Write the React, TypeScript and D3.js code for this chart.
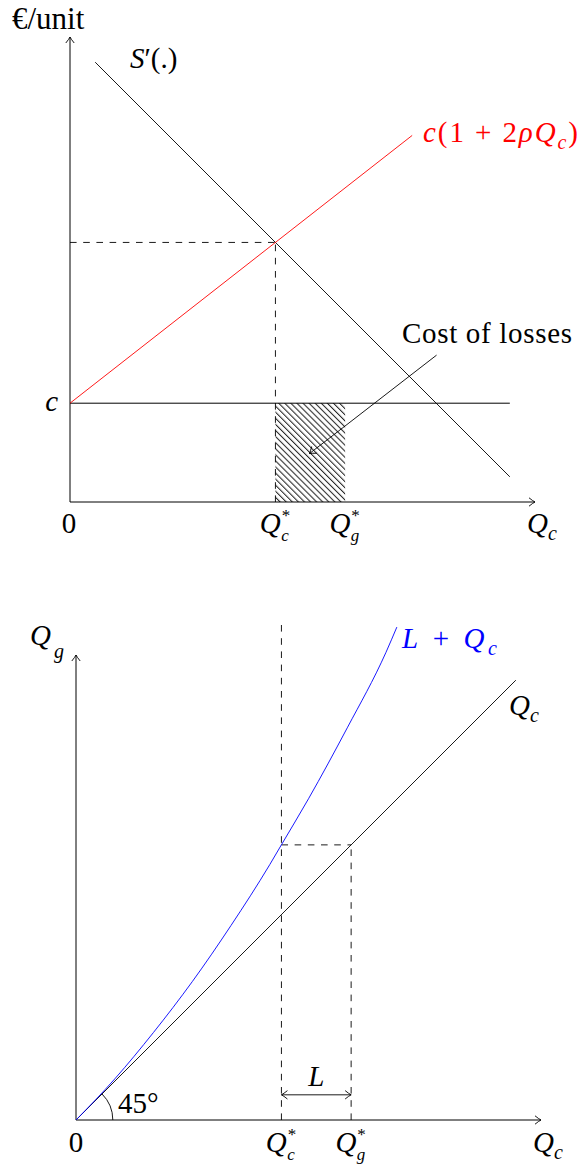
import React from "react";
import * as d3 from "d3";

// Both panels share the same unit grid: 0..12 on each axis.
const AXIS_MAX = 12;

// Upper panel: marginal value S'(.), marginal cost c(1+2ρQc), unit cost c
const marginalValue: [number, number][] = [
  [0.65, 11.35],
  [11.35, 0.65],
];
const marginalCost: [number, number][] = [
  [0, 2.55],
  [8.83, 9.46],
];
const unitCost = 2.55;
const unitCostEnd = 11.35;
const qgStar = 7.1;
const lossArrow: [number, number][] = [
  [9.46, 3.79],
  [6.18, 1.25],
];

// Lower panel: generation needed (L + Qc) against consumption Qc
const consumptionLine: [number, number][] = [
  [0, 0],
  [11.35, 11.35],
];
const generationCurve: [number, number][] = [
  [0, 0],
  [1, 1.06],
  [2, 2.26],
  [3, 3.57],
  [4, 5.02],
  [5, 6.59],
  [5.3, 7.1],
  [6, 8.29],
  [7, 10.12],
  [8, 12.07],
  [8.28, 12.72],
];
const guideTop = 12.9;
const lossBracketLevel = 0.65;
const angleArcRadius = 0.95;

const FONT = "Liberation Serif";
const FS = 29;
const SFS = 20;
const SS = 17;

function intersect(a: [number, number][], b: [number, number][]) {
  const ma = (a[1][1] - a[0][1]) / (a[1][0] - a[0][0]);
  const mb = (b[1][1] - b[0][1]) / (b[1][0] - b[0][0]);
  const ba = a[0][1] - ma * a[0][0];
  const bb = b[0][1] - mb * b[0][0];
  const x = (bb - ba) / (ma - mb);
  return [x, ma * x + ba] as [number, number];
}

function Arrow({ x, y, angle, color = "#000" }: { x: number; y: number; angle: number; color?: string }) {
  return (
    <path
      d="M -6 -4.2 Q -2.2 -1.1 0 0 Q -2.2 1.1 -6 4.2"
      transform={`translate(${x},${y}) rotate(${angle})`}
      fill="none"
      stroke={color}
      strokeWidth={0.9}
    />
  );
}

// Math-style Q with a subscript and optional star, as one text element
function QLabel({
  cx,
  y,
  sub,
  sup,
  fill = "#000",
  left,
}: {
  cx?: number;
  y: number;
  sub: string;
  sup?: boolean;
  fill?: string;
  left?: number;
}) {
  const qw = 0.74 * FS;
  const total = qw + 0.5 * SFS;
  const x0 = left !== undefined ? left : (cx as number) - total / 2;
  return (
    <text x={x0} y={y} fill={fill} fontFamily={FONT} fontSize={FS}>
      <tspan fontStyle="italic">Q</tspan>
      {sup ? (
        <>
          <tspan fontSize={SS} dx={1} dy={-12}>
            *
          </tspan>
          <tspan fontSize={SS} fontStyle="italic" dx={-9} dy={20}>
            {sub}
          </tspan>
        </>
      ) : (
        <tspan fontSize={SFS} fontStyle="italic" dy={7}>
          {sub}
        </tspan>
      )}
    </text>
  );
}

export default function App() {
  const xT = d3.scaleLinear().domain([0, AXIS_MAX]).range([70, 535]);
  const yT = d3.scaleLinear().domain([0, AXIS_MAX]).range([502, 37]);
  const xB = d3.scaleLinear().domain([0, AXIS_MAX]).range([76, 541]);
  const yB = d3.scaleLinear().domain([0, AXIS_MAX]).range([1120, 655]);

  const lineT = d3
    .line<[number, number]>()
    .x((d) => xT(d[0]))
    .y((d) => yT(d[1]));
  const lineB = d3
    .line<[number, number]>()
    .x((d) => xB(d[0]))
    .y((d) => yB(d[1]));
  const curveB = d3
    .line<[number, number]>()
    .x((d) => xB(d[0]))
    .y((d) => yB(d[1]))
    .curve(d3.curveMonotoneX);

  const [qcStar, pStar] = intersect(marginalValue, marginalCost);
  const dash = "6.6 6.6";

  const la0 = lossArrow[0];
  const la1 = lossArrow[1];
  const laAngle =
    (Math.atan2(yT(la1[1]) - yT(la0[1]), xT(la1[0]) - xT(la0[0])) * 180) / Math.PI;

  const r = xB(angleArcRadius) - xB(0);
  const ox = xB(0);
  const oy = yB(0);
  const arcPath = `M ${ox + r} ${oy} A ${r} ${r} 0 0 0 ${ox + r * Math.SQRT1_2} ${oy - r * Math.SQRT1_2}`;

  return (
    <svg
      width={580}
      height={1165}
      style={{ position: "absolute", left: 0, top: 0, background: "#fff" }}
      fontFamily={FONT}
    >
      <defs>
        <pattern
          id="hatch"
          patternUnits="userSpaceOnUse"
          width={10}
          height={4.3}
          patternTransform="rotate(45)"
        >
          <line x1={0} y1={2} x2={10} y2={2} stroke="#000" strokeWidth={0.9} />
        </pattern>
      </defs>

      {/* ---------- upper panel ---------- */}
      <rect
        x={xT(qcStar)}
        y={yT(unitCost)}
        width={xT(qgStar) - xT(qcStar)}
        height={yT(0) - yT(unitCost)}
        fill="url(#hatch)"
      />
      {/* axes */}
      <line x1={xT(0)} y1={yT(0)} x2={xT(0)} y2={yT(AXIS_MAX)} stroke="#000" strokeWidth={1} />
      <Arrow x={xT(0)} y={yT(AXIS_MAX)} angle={-90} />
      <line x1={xT(0)} y1={yT(0)} x2={xT(AXIS_MAX)} y2={yT(0)} stroke="#000" strokeWidth={1} />
      <Arrow x={xT(AXIS_MAX)} y={yT(0)} angle={0} />

      {/* unit cost c */}
      <line x1={xT(0)} y1={yT(unitCost)} x2={xT(unitCostEnd)} y2={yT(unitCost)} stroke="#000" strokeWidth={1} />
      {/* guides to the equilibrium */}
      <line x1={xT(0)} y1={yT(pStar)} x2={xT(qcStar)} y2={yT(pStar)} stroke="#000" strokeWidth={0.9} strokeDasharray={dash} />
      <line x1={xT(qcStar)} y1={yT(0)} x2={xT(qcStar)} y2={yT(pStar)} stroke="#000" strokeWidth={0.9} strokeDasharray={dash} />
      {/* curves */}
      <path d={lineT(marginalValue) || ""} stroke="#000" strokeWidth={0.9} fill="none" />
      <path d={lineT(marginalCost) || ""} stroke="#ff0000" strokeWidth={0.9} fill="none" />
      {/* pointer to hatched area */}
      <line x1={xT(la0[0])} y1={yT(la0[1])} x2={xT(la1[0])} y2={yT(la1[1])} stroke="#000" strokeWidth={0.9} />
      <Arrow x={xT(la1[0])} y={yT(la1[1])} angle={laAngle} />

      {/* upper labels */}
      <text x={12} y={29} fontSize={31}>
        €/unit
      </text>
      <text x={130} y={68} fontSize={FS}>
        <tspan fontStyle="italic">S</tspan>
        <tspan>′(.)</tspan>
      </text>
      <text x={423} y={142} fontSize={FS} fill="#ff0000" textLength={155} lengthAdjust="spacing">
        <tspan fontStyle="italic">c</tspan>
        <tspan>(1 + 2</tspan>
        <tspan fontStyle="italic">ρQ</tspan>
        <tspan fontStyle="italic" fontSize={SFS} dy={7}>
          c
        </tspan>
        <tspan dy={-7}>)</tspan>
      </text>
      <text x={xT(0) - 12} y={yT(unitCost) + 8} fontSize={FS} fontStyle="italic" textAnchor="end">
        c
      </text>
      <text x={402} y={343} fontSize={FS} textLength={170} lengthAdjust="spacing">
        Cost of losses
      </text>
      <text x={xT(0) - 1} y={533} fontSize={FS} textAnchor="middle">
        0
      </text>
      <QLabel cx={xT(qcStar)} y={533} sub="c" sup />
      <QLabel cx={xT(qgStar)} y={533} sub="g" sup />
      <QLabel left={527} y={533} sub="c" />

      {/* ---------- lower panel ---------- */}
      <line x1={xB(0)} y1={yB(0)} x2={xB(0)} y2={yB(AXIS_MAX)} stroke="#000" strokeWidth={1} />
      <Arrow x={xB(0)} y={yB(AXIS_MAX)} angle={-90} />
      <line x1={xB(0)} y1={yB(0)} x2={xB(AXIS_MAX)} y2={yB(0)} stroke="#000" strokeWidth={1} />
      <Arrow x={xB(AXIS_MAX)} y={yB(0)} angle={0} />

      {/* guides */}
      <line x1={xB(qcStar)} y1={yB(0)} x2={xB(qcStar)} y2={yB(guideTop)} stroke="#000" strokeWidth={0.9} strokeDasharray={dash} />
      <line x1={xB(qgStar)} y1={yB(0)} x2={xB(qgStar)} y2={yB(qgStar)} stroke="#000" strokeWidth={0.9} strokeDasharray={dash} />
      <line x1={xB(qcStar)} y1={yB(qgStar)} x2={xB(qgStar)} y2={yB(qgStar)} stroke="#000" strokeWidth={0.9} strokeDasharray={dash} />

      {/* curves */}
      <path d={lineB(consumptionLine) || ""} stroke="#000" strokeWidth={0.9} fill="none" />
      <path d={curveB(generationCurve) || ""} stroke="#0000ff" strokeWidth={0.9} fill="none" />

      {/* 45 degree marker */}
      <path d={arcPath} stroke="#000" strokeWidth={0.9} fill="none" />

      {/* losses bracket */}
      <line
        x1={xB(qcStar)}
        y1={yB(lossBracketLevel)}
        x2={xB(qgStar)}
        y2={yB(lossBracketLevel)}
        stroke="#000"
        strokeWidth={0.9}
      />
      <Arrow x={xB(qcStar)} y={yB(lossBracketLevel)} angle={180} />
      <Arrow x={xB(qgStar)} y={yB(lossBracketLevel)} angle={0} />

      {/* lower labels */}
      <text x={30} y={645} fontSize={FS}>
        <tspan fontStyle="italic">Q</tspan>
        <tspan fontStyle="italic" fontSize={SFS} dx={3} dy={13}>
          g
        </tspan>
      </text>
      <text x={402} y={648} fontSize={FS} fill="#0000ff" textLength={95} lengthAdjust="spacing">
        <tspan fontStyle="italic">L</tspan>
        <tspan> + </tspan>
        <tspan fontStyle="italic">Q</tspan>
        <tspan fontStyle="italic" fontSize={SFS} dy={7}>
          c
        </tspan>
      </text>
      <QLabel left={509} y={715} sub="c" />
      <text x={118} y={1113} fontSize={FS}>
        45°
      </text>
      <text x={(xB(qcStar) + xB(qgStar)) / 2} y={1086} fontSize={FS} fontStyle="italic" textAnchor="middle">
        L
      </text>
      <text x={xB(0)} y={1152} fontSize={FS} textAnchor="middle">
        0
      </text>
      <QLabel cx={xB(qcStar)} y={1152} sub="c" sup />
      <QLabel cx={xB(qgStar)} y={1152} sub="g" sup />
      <QLabel left={533} y={1152} sub="c" />
    </svg>
  );
}
